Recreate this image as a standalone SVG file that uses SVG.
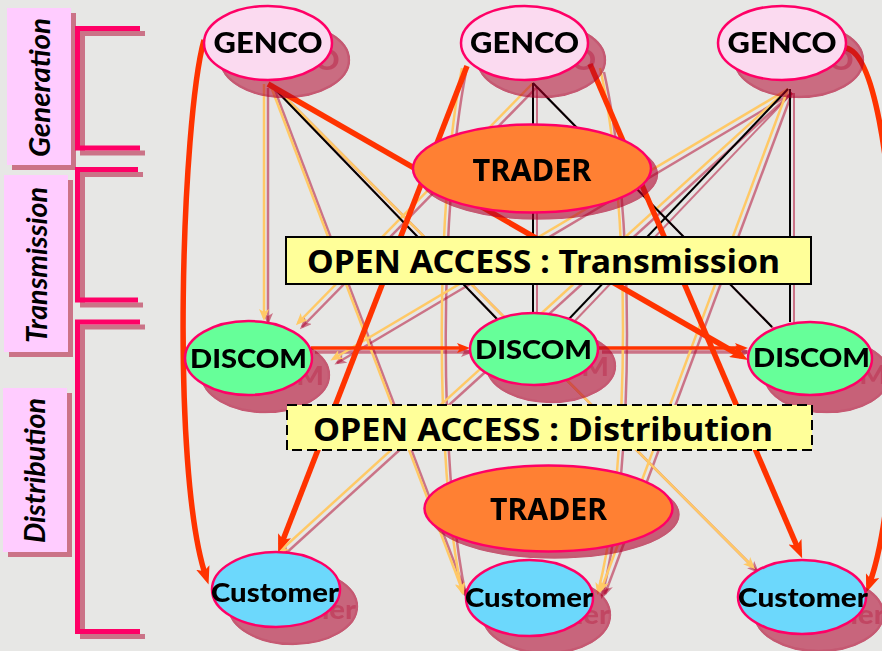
<svg xmlns="http://www.w3.org/2000/svg" width="882" height="651" viewBox="0 0 882 651">
  <style>
    .bg { fill: #e7e7e5; }
    .sh { fill: #b0002a; fill-opacity: 0.5; stroke: none; }
    .shl { fill: none; stroke: #b0002a; stroke-opacity: 0.5; }
    .tab { fill: #ffccff; }
    .brk { fill: none; stroke: #ff0066; stroke-width: 5; }
    .side { font-family: Lato, "Liberation Sans", sans-serif; font-style: italic; font-weight: bold; font-size: 28px; fill: #000; text-anchor: middle; }
    .node { stroke: #ff0066; stroke-width: 2.5; }
    .genco { fill: #fbdaf0; }
    .discom { fill: #66ff99; }
    .cust { fill: #6cd8fc; }
    .trader { fill: #ff8033; }
    .lbl { font-family: Lato, "Liberation Sans", sans-serif; font-weight: 900; fill: #000; text-anchor: middle; }
    .tlbl { font-family: "Noto Sans", "DejaVu Sans", sans-serif; font-weight: bold; fill: #000; text-anchor: middle; font-size: 31px; }
    .oa { fill: #ffff99; stroke: #000; stroke-width: 2; }
    .oa-dash { stroke-dasharray: 10 5; }
    .oat { font-family: "Noto Sans", "DejaVu Sans", sans-serif; font-weight: bold; font-size: 33px; fill: #000; }
    .y { fill: none; stroke: #ffc966; stroke-width: 2.5; marker-end: url(#ahY); }
    .ys { fill: none; stroke: #b0002a; stroke-opacity: 0.5; stroke-width: 2.5; marker-end: url(#ahYs); }
    .k { fill: none; stroke: #000; stroke-width: 2; }
    .ks { fill: none; stroke: #b0002a; stroke-opacity: 0.5; stroke-width: 2; }
    .r { fill: none; stroke: #ff3300; stroke-width: 5.5; marker-end: url(#ahR); }
    .rt { fill: none; stroke: #ff3300; stroke-width: 3.5; marker-end: url(#ahRt); }
    .rts { fill: none; stroke: #b0002a; stroke-opacity: 0.5; stroke-width: 3.5; marker-end: url(#ahRts); }
    .drop { filter: url(#dropNode); }
    .drop-s { filter: url(#dropSmall); }
  </style>
  <defs>
    <!-- tinted drop shadow: dark glyphs give a denser shadow than light fills -->
    <filter id="dropNode" x="-10%" y="-10%" width="145%" height="170%" color-interpolation-filters="sRGB">
      <feColorMatrix in="SourceGraphic" type="matrix" values="0 0 0 0 0.69  0 0 0 0 0  0 0 0 0 0.165  -0.06 -0.06 -0.06 0.7 0" result="tint"/>
      <feOffset in="tint" dx="17" dy="17" result="off"/>
      <feMerge><feMergeNode in="off"/><feMergeNode in="SourceGraphic"/></feMerge>
    </filter>
    <filter id="dropSmall" x="-5%" y="-10%" width="115%" height="130%" color-interpolation-filters="sRGB">
      <feColorMatrix in="SourceGraphic" type="matrix" values="0 0 0 0 0.69  0 0 0 0 0  0 0 0 0 0.165  -0.06 -0.06 -0.06 0.7 0" result="tint"/>
      <feOffset in="tint" dx="6" dy="6" result="off"/>
      <feMerge><feMergeNode in="off"/><feMergeNode in="SourceGraphic"/></feMerge>
    </filter>

    <marker id="ahY" markerUnits="userSpaceOnUse" viewBox="0 0 12 10" refX="9" refY="5" markerWidth="12" markerHeight="10" orient="auto">
      <path d="M0,0 L12,5 L0,10 L3,5 Z" fill="#ffc966"/>
    </marker>
    <marker id="ahYs" markerUnits="userSpaceOnUse" viewBox="0 0 12 10" refX="9" refY="5" markerWidth="12" markerHeight="10" orient="auto">
      <path d="M0,0 L12,5 L0,10 L3,5 Z" fill="#b0002a" fill-opacity="0.5"/>
    </marker>
    <marker id="ahR" markerUnits="userSpaceOnUse" viewBox="0 0 18 14" refX="10" refY="7" markerWidth="18" markerHeight="14" orient="auto">
      <path d="M0,0 L18,7 L0,14 L4,7 Z" fill="#ff3300"/>
    </marker>
    <marker id="ahRt" markerUnits="userSpaceOnUse" viewBox="0 0 13 10" refX="8" refY="5" markerWidth="13" markerHeight="10" orient="auto">
      <path d="M0,0 L13,5 L0,10 L3,5 Z" fill="#ff3300"/>
    </marker>
    <marker id="ahRts" markerUnits="userSpaceOnUse" viewBox="0 0 13 10" refX="8" refY="5" markerWidth="13" markerHeight="10" orient="auto">
      <path d="M0,0 L13,5 L0,10 L3,5 Z" fill="#b0002a" fill-opacity="0.5"/>
    </marker>

    <!-- thin supply paths (with arrowheads) -->
    <path id="g1-d1" d="M264,84 L264,318"/>
    <path id="g1-c2" d="M270,84 L463,592"/>
    <path id="g1-c3" d="M272,84 L753,567"/>
    <path id="g2-d1" d="M533,83 L298,323"/>
    <path id="g2-c2a" d="M462,68 C436,200 434,460 462,592"/>
    <path id="g2-c2b" d="M600,68 C630,200 632,460 598,592"/>
    <path id="g3-d1" d="M788,89 L333,359"/>
    <path id="g3-c1" d="M788,89 L279,552"/>
    <path id="g3-c2" d="M788,89 L601,590"/>
    <!-- transmission links (no arrowheads) -->
    <path id="g1-d2" d="M270,84 L497,319"/>
    <path id="g2-d2" d="M533,83 L533,313"/>
    <path id="g2-d3" d="M533,83 L772,327"/>
    <path id="g3-d2" d="M788,89 L568,320"/>
    <path id="g3-d3" d="M790,89 L790,322"/>
    <!-- DISCOM to DISCOM -->
    <path id="d1-d2" d="M311,348 L465,348"/>
    <path id="d2-d3" d="M598,348 L743,348"/>
  </defs>

  <rect class="bg" x="0" y="0" width="882" height="651"/>

  <!-- sector tabs -->
  <g id="sector-generation">
    <rect class="sh" x="12" y="13" width="64" height="157"/>
    <rect class="tab" x="7" y="8" width="64" height="157"/>
    <text class="side" transform="translate(50 87.5) rotate(-90)" textLength="139" lengthAdjust="spacingAndGlyphs">Generation</text>
  </g>
  <g id="sector-transmission">
    <rect class="sh" x="9" y="180" width="64" height="177"/>
    <rect class="tab" x="4" y="175" width="64" height="177"/>
    <text class="side" transform="translate(47 265) rotate(-90)" textLength="156" lengthAdjust="spacingAndGlyphs">Transmission</text>
  </g>
  <g id="sector-distribution">
    <rect class="sh" x="8" y="393" width="64" height="164"/>
    <rect class="tab" x="3" y="388" width="64" height="164"/>
    <text class="side" transform="translate(45 470.5) rotate(-90)" textLength="145" lengthAdjust="spacingAndGlyphs">Distribution</text>
  </g>

  <!-- brackets -->
  <g id="brackets">
    <g class="shl" stroke-width="5" transform="translate(5 5)">
      <path d="M140,28.5 H77.5 V148 H140"/>
      <path d="M138,169.5 H77.5 V300 H138"/>
      <path d="M140,322 H77.5 V631.5 H140"/>
    </g>
    <path class="brk" d="M140,28.5 H77.5 V148 H140"/>
    <path class="brk" d="M138,169.5 H77.5 V300 H138"/>
    <path class="brk" d="M140,322 H77.5 V631.5 H140"/>
  </g>

  <!-- connectors -->
  <g id="connectors">
    <g transform="translate(4 4)">
      <use href="#g1-d1" class="ys"/>
      <use href="#g1-c2" class="ys"/>
      <use href="#g1-c3" class="ys"/>
      <use href="#g2-d1" class="ys"/>
      <use href="#g2-c2a" class="ys"/>
      <use href="#g2-c2b" class="ys"/>
      <use href="#g3-d1" class="ys"/>
      <use href="#g3-c1" class="ys"/>
      <use href="#g3-c2" class="ys"/>
      <use href="#g1-d2" class="ks"/>
      <use href="#g2-d2" class="ks"/>
      <use href="#g2-d3" class="ks"/>
      <use href="#g3-d2" class="ks"/>
      <use href="#g3-d3" class="ks"/>
      <use href="#d1-d2" class="rts"/>
      <use href="#d2-d3" class="rts"/>
    </g>
    <use href="#g1-d1" class="y"/>
    <use href="#g1-c2" class="y"/>
    <use href="#g1-c3" class="y"/>
    <use href="#g2-d1" class="y"/>
    <use href="#g2-c2a" class="y"/>
    <use href="#g2-c2b" class="y"/>
    <use href="#g3-d1" class="y"/>
    <use href="#g3-c1" class="y"/>
    <use href="#g3-c2" class="y"/>
    <use href="#g1-d2" class="k"/>
    <use href="#g2-d2" class="k"/>
    <use href="#g2-d3" class="k"/>
    <use href="#g3-d2" class="k"/>
    <use href="#g3-d3" class="k"/>
    <use href="#d1-d2" class="rt"/>
    <use href="#d2-d3" class="rt"/>
    <!-- bilateral contracts -->
    <path class="r" d="M204,40 C182,120 170,470 206,577"/>
    <path class="r" d="M846,48 C902,60 912,470 869,585"/>
    <path class="r" d="M268,84 L741,356"/>
    <path class="r" d="M467,66 L281,545"/>
    <path class="r" d="M590,64 L799,551"/>
  </g>

  <!-- generators -->
  <g id="genco-1" class="drop">
    <ellipse class="node genco" cx="268" cy="43" rx="64" ry="37"/>
    <text class="lbl" x="268" y="53" font-size="28" textLength="109" lengthAdjust="spacingAndGlyphs">GENCO</text>
  </g>
  <g id="genco-2" class="drop">
    <ellipse class="node genco" cx="524.5" cy="43" rx="63.5" ry="37"/>
    <text class="lbl" x="524.5" y="53" font-size="28" textLength="109" lengthAdjust="spacingAndGlyphs">GENCO</text>
  </g>
  <g id="genco-3" class="drop">
    <ellipse class="node genco" cx="782" cy="43" rx="64" ry="37"/>
    <text class="lbl" x="782" y="53" font-size="28" textLength="109" lengthAdjust="spacingAndGlyphs">GENCO</text>
  </g>

  <!-- wholesale trader -->
  <g id="trader-1" class="drop-s">
    <ellipse class="node trader" cx="532" cy="168.5" rx="119" ry="44"/>
    <text class="tlbl" x="532" y="181" textLength="119" lengthAdjust="spacingAndGlyphs">TRADER</text>
  </g>

  <!-- distribution companies -->
  <g id="discom-1" class="drop">
    <ellipse class="node discom" cx="248.5" cy="358" rx="63.5" ry="37"/>
    <text class="lbl" x="248.5" y="368" font-size="26" textLength="117" lengthAdjust="spacingAndGlyphs">DISCOM</text>
  </g>
  <g id="discom-2" class="drop">
    <ellipse class="node discom" cx="534" cy="349" rx="64" ry="36"/>
    <text class="lbl" x="533.5" y="359" font-size="26" textLength="117" lengthAdjust="spacingAndGlyphs">DISCOM</text>
  </g>
  <g id="discom-3" class="drop">
    <ellipse class="node discom" cx="810" cy="358.5" rx="62" ry="36.5"/>
    <text class="lbl" x="811.5" y="367" font-size="26" textLength="117" lengthAdjust="spacingAndGlyphs">DISCOM</text>
  </g>

  <!-- retail trader -->
  <g id="trader-2" class="drop-s">
    <ellipse class="node trader" cx="548.5" cy="508.5" rx="124" ry="43"/>
    <text class="tlbl" x="548.5" y="520" textLength="117" lengthAdjust="spacingAndGlyphs">TRADER</text>
  </g>

  <!-- customers -->
  <g id="customer-1" class="drop">
    <ellipse class="node cust" cx="276" cy="589.5" rx="64" ry="37.5"/>
    <text class="lbl" x="275" y="602" font-size="26" textLength="128" lengthAdjust="spacingAndGlyphs">Customer</text>
  </g>
  <g id="customer-2" class="drop">
    <ellipse class="node cust" cx="529.5" cy="598" rx="63.5" ry="38"/>
    <text class="lbl" x="529" y="607" font-size="26" textLength="128" lengthAdjust="spacingAndGlyphs">Customer</text>
  </g>
  <g id="customer-3" class="drop">
    <ellipse class="node cust" cx="802" cy="597" rx="64" ry="37"/>
    <text class="lbl" x="803" y="607" font-size="26" textLength="130" lengthAdjust="spacingAndGlyphs">Customer</text>
  </g>

  <!-- open access banners -->
  <g id="open-access-transmission">
    <rect class="oa" x="286" y="237" width="525" height="47"/>
    <text class="oat" x="307" y="273" textLength="473" lengthAdjust="spacingAndGlyphs">OPEN ACCESS : Transmission</text>
  </g>
  <g id="open-access-distribution">
    <rect class="oa oa-dash" x="287" y="405" width="525" height="45"/>
    <text class="oat" x="313" y="441" textLength="460" lengthAdjust="spacingAndGlyphs">OPEN ACCESS : Distribution</text>
  </g>
</svg>
